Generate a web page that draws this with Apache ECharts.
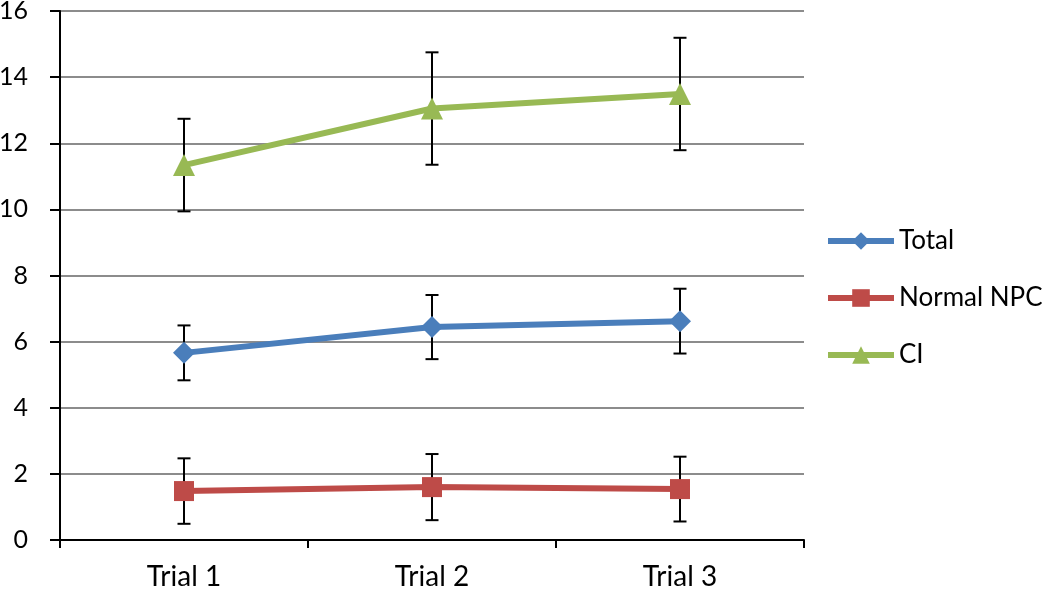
<!DOCTYPE html>
<html><head><meta charset="utf-8">
<script src="https://cdn.jsdelivr.net/npm/echarts@6/dist/echarts.min.js"></script>
<style>html,body{margin:0;padding:0;background:#fff}#c{width:1050px;height:590px}</style>
</head><body><div id="c"></div>
<script>
const categories = ['Trial 1', 'Trial 2', 'Trial 3'];
const seriesNames = ['Total', 'Normal NPC', 'CI'];
const totalVals = [5.66, 6.44, 6.62];
const totalErr = [0.83, 0.97, 0.98];
const npcVals = [1.48, 1.60, 1.54];
const npcErr = [0.99, 1.00, 0.98];
const ciVals = [11.34, 13.05, 13.49];
const ciErr = [1.40, 1.70, 1.70];
const yTicks = [0, 2, 4, 6, 8, 10, 12, 14, 16];

const colors = ['#4a7ebb', '#be4b48', '#98b954'];
const symbols = ['diamond', 'rect', 'triangle'];
const symbolSizes = [22, 20, 22];
const vals = [totalVals, npcVals, ciVals];
const errs = [totalErr, npcErr, ciErr];

const errData = [];
vals.forEach((v, s) => v.forEach((y, i) => errData.push([i, y - errs[s][i], y + errs[s][i]])));

const chart = echarts.init(document.getElementById('c'));
const font = 'Lato, "Open Sans", sans-serif';
chart.setOption({
  animation: false,
  grid: { left: 60, right: 246, top: 11, bottom: 50, containLabel: false, outerBoundsMode: 'none' },
  legend: {
    orient: 'vertical', left: 820, top: 223, itemGap: 31, padding: 5,
    itemWidth: 66, itemHeight: 22,
    lineStyle: { width: 6 },
    textStyle: { fontSize: 26, color: '#000', fontFamily: font },
    data: seriesNames
  },
  xAxis: {
    type: 'category', data: categories, boundaryGap: true,
    axisLine: { lineStyle: { color: '#000', width: 2 } },
    axisTick: { show: true, length: 8, lineStyle: { color: '#000', width: 2 } },
    axisLabel: { fontSize: 28, color: '#000', fontFamily: font, margin: 23 },
    splitLine: { show: false }
  },
  yAxis: {
    type: 'value', min: 0, max: 16, interval: 2,
    axisLine: { show: true, lineStyle: { color: '#000', width: 2 } },
    axisTick: { show: true, length: 10, lineStyle: { color: '#000', width: 2 } },
    axisLabel: { fontSize: 25, color: '#000', fontFamily: font, margin: 32,
      formatter: v => yTicks.includes(v) ? String(v) : '' },
    splitLine: { show: true, lineStyle: { color: '#8c8c8c', width: 2 } }
  },
  series: [
    {
      type: 'custom', name: 'err', z: 1, silent: true,
      data: errData,
      renderItem: function (params, api) {
        const x = api.value(0);
        const lo = api.coord([x, api.value(1)]);
        const hi = api.coord([x, api.value(2)]);
        const hw = 6.5;
        const st = { stroke: '#000', lineWidth: 2 };
        return { type: 'group', children: [
          { type: 'line', shape: { x1: lo[0], y1: lo[1], x2: hi[0], y2: hi[1] }, style: st },
          { type: 'line', shape: { x1: lo[0] - hw, y1: lo[1], x2: lo[0] + hw, y2: lo[1] }, style: st },
          { type: 'line', shape: { x1: hi[0] - hw, y1: hi[1], x2: hi[0] + hw, y2: hi[1] }, style: st }
        ]};
      }
    },
    ...seriesNames.map((n, s) => ({
      type: 'line', name: n, data: vals[s], z: 3,
      symbol: symbols[s], symbolSize: symbolSizes[s], showAllSymbol: true,
      lineStyle: { color: colors[s], width: 6 },
      itemStyle: { color: colors[s] },
      emphasis: { disabled: true }
    }))
  ]
});
</script></body></html>
